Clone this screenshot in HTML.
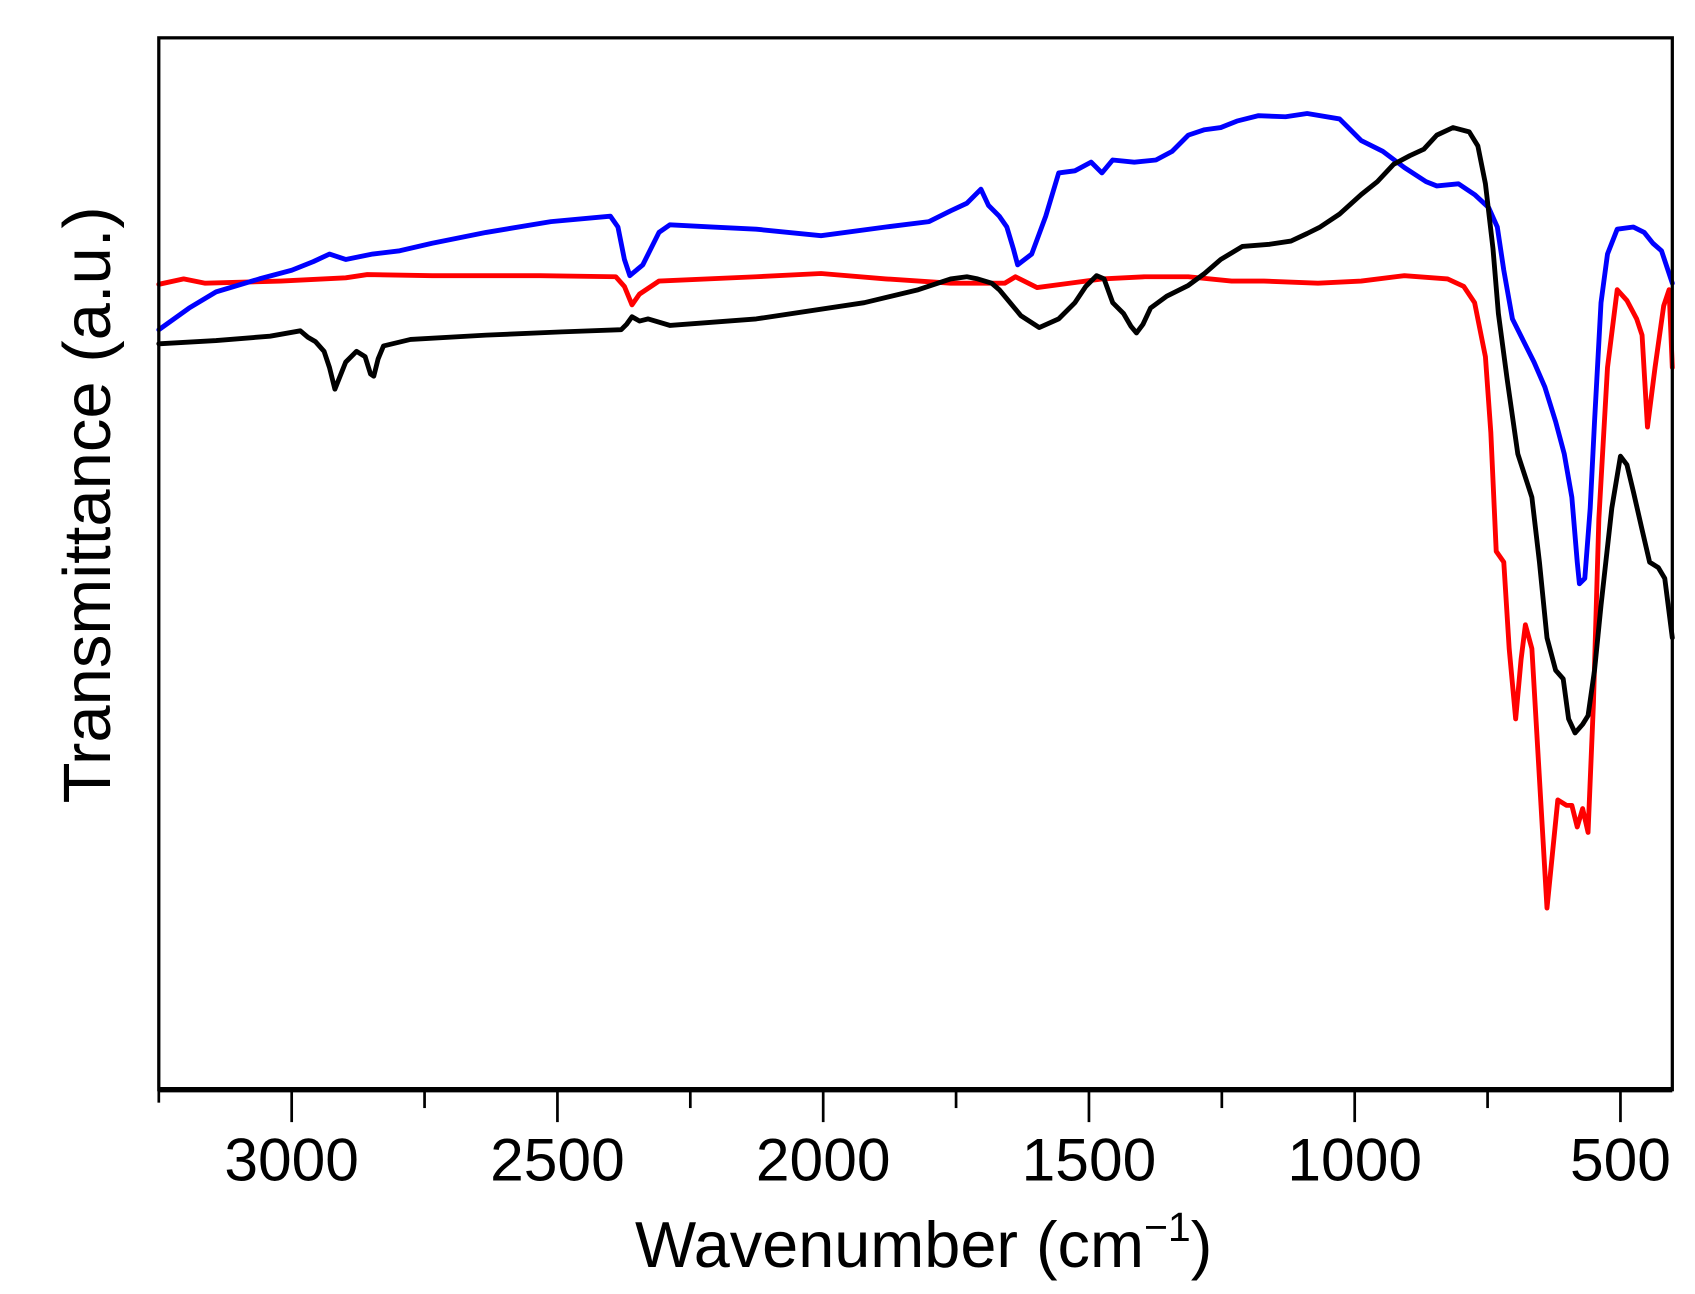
<!DOCTYPE html>
<html><head><style>html,body{margin:0;padding:0;background:#fff;}svg{display:block}</style></head>
<body>
<svg width="1695" height="1294" viewBox="0 0 1569 1197" preserveAspectRatio="none" xmlns="http://www.w3.org/2000/svg">
<rect width="1569" height="1197" fill="#fff"/>
<g fill="none" stroke-linejoin="round" stroke-linecap="round" stroke-width="4.5">
<polyline stroke="#ff0000" points="147,263 170,258 190,262 260,260 320,257 340,254 400,255 500,255 570,256 578,265 585,282 592,272 610,260 700,256 760,253 820,258 880,262 930,262 940,256 960,266 990,262 1020,258 1060,256 1100,256 1140,260 1170,260 1220,262 1260,260 1300,255 1340,258 1355,265 1365,280 1375,330 1380,400 1385,510 1392,520 1397,600 1403,665 1408,610 1412,578 1418,600 1425,720 1432,840 1437,790 1442,740 1450,745 1455,745 1460,765 1465,748 1470,770 1475,650 1480,480 1488,340 1497,268 1506,278 1515,295 1520,310 1525,395 1532,340 1540,283 1545,268 1548,340"/>
<polyline stroke="#0000ff" points="147,305 175,285 200,270 240,258 270,250 290,242 305,235 320,240 345,235 370,232 400,225 450,215 510,205 565,200 572,210 578,240 583,255 595,245 610,215 620,208 660,210 700,212 760,218 820,210 860,205 880,195 895,188 908,175 915,190 925,200 932,210 938,230 942,245 955,235 968,200 980,160 995,158 1010,150 1020,160 1030,148 1050,150 1070,148 1085,140 1100,125 1115,120 1130,118 1145,112 1165,107 1190,108 1210,105 1240,110 1260,130 1280,140 1300,155 1320,168 1330,172 1350,170 1365,180 1378,192 1386,210 1392,250 1400,295 1410,315 1420,335 1430,358 1440,390 1448,420 1455,460 1460,520 1462,540 1467,535 1472,470 1476,390 1482,280 1488,235 1497,212 1512,210 1522,215 1530,225 1538,232 1548,262"/>
<polyline stroke="#000000" points="147,318 200,315 250,311 278,306 285,312 292,316 300,325 305,340 310,360 316,345 320,335 330,325 338,330 343,346 346,348 350,332 355,320 380,314 450,310 520,307 575,305 580,300 585,293 592,297 600,295 620,301 700,295 800,280 850,268 880,258 895,256 905,258 918,262 925,268 935,280 945,292 962,303 980,295 995,280 1005,265 1015,255 1022,258 1030,280 1040,290 1047,302 1052,308 1058,300 1065,285 1080,274 1100,264 1115,253 1130,240 1150,228 1175,226 1195,223 1210,216 1222,210 1240,198 1260,180 1275,168 1290,152 1305,144 1318,138 1330,125 1345,118 1360,122 1368,135 1375,170 1382,230 1387,290 1395,350 1405,420 1418,460 1425,520 1432,590 1440,620 1447,628 1452,665 1458,678 1465,670 1470,662 1476,620 1482,560 1492,470 1500,422 1506,430 1512,455 1520,490 1527,520 1535,525 1541,535 1548,590"/>
</g>
<rect x="147" y="35" width="1401" height="973" fill="none" stroke="#000" stroke-width="3"/>
<line x1="147" y1="1008" x2="1548" y2="1008" stroke="#000" stroke-width="5"/>
<g stroke="#000" stroke-width="2.5">
<line x1="147" y1="1008" x2="147" y2="1020"/>
<line x1="270" y1="1008" x2="270" y2="1038"/><line x1="393" y1="1008" x2="393" y2="1025"/>
<line x1="516" y1="1008" x2="516" y2="1038"/><line x1="639" y1="1008" x2="639" y2="1025"/>
<line x1="762" y1="1008" x2="762" y2="1038"/><line x1="885" y1="1008" x2="885" y2="1025"/>
<line x1="1008" y1="1008" x2="1008" y2="1038"/><line x1="1131" y1="1008" x2="1131" y2="1025"/>
<line x1="1254" y1="1008" x2="1254" y2="1038"/><line x1="1377" y1="1008" x2="1377" y2="1025"/>
<line x1="1500" y1="1008" x2="1500" y2="1038"/>
</g>
<g font-family="Liberation Sans, sans-serif" font-size="56" text-anchor="middle" fill="#000">
<text x="270" y="1092">3000</text><text x="516" y="1092">2500</text><text x="762" y="1092">2000</text>
<text x="1008" y="1092">1500</text><text x="1254" y="1092">1000</text><text x="1500" y="1092">500</text>
<text x="855" y="1172" font-size="60">Wavenumber (cm<tspan font-size="38" dy="-24">−1</tspan><tspan dy="24">)</tspan></text>
<text transform="translate(102,467) rotate(-90)" font-size="62">Transmittance (a.u.)</text>
</g>
</svg>
</body></html>
